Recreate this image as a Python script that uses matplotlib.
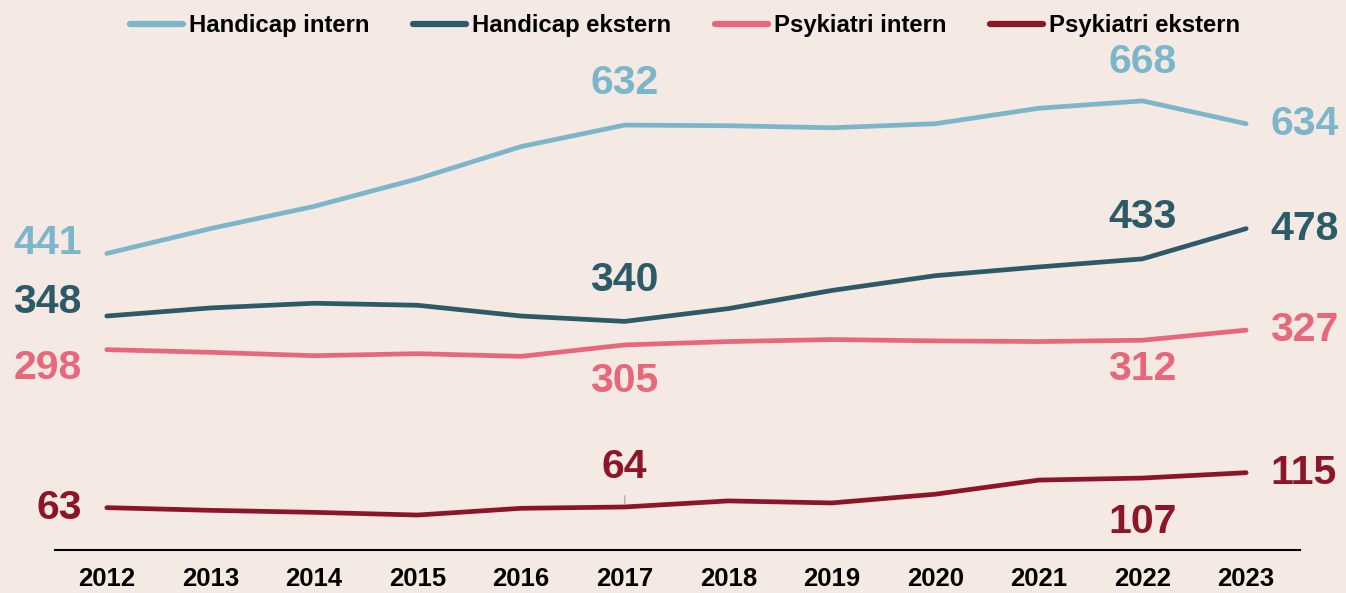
import matplotlib
matplotlib.use("Agg")
import matplotlib.pyplot as plt

# values
YEARS = [2012, 2013, 2014, 2015, 2016, 2017, 2018, 2019, 2020, 2021, 2022, 2023]
HANDICAP_INTERN  = [441, 478, 511, 552, 600, 632, 631, 628, 634, 657, 668, 634]
HANDICAP_EKSTERN = [348, 360, 367, 364, 348, 340, 359, 386, 408, 421, 433, 478]
PSYK_INTERN      = [298, 294, 289, 292, 288, 305, 310, 313, 311, 310, 312, 327]
PSYK_EKSTERN     = [63, 59, 56, 52, 62, 64, 73, 70, 83, 104, 107, 115]

NAMES = ["Handicap intern", "Handicap ekstern", "Psykiatri intern", "Psykiatri ekstern"]

BG     = "#f4e9e3"
COLORS = ["#7bb6cb", "#2d5a69", "#e8687b", "#8c1628"]

plt.rcParams["font.family"] = ["Liberation Sans", "DejaVu Sans"]
plt.rcParams["font.weight"] = "bold"

fig = plt.figure(figsize=(13.46, 5.93), dpi=100)
fig.patch.set_facecolor(BG)
ax = fig.add_axes([55 / 1346, 43 / 593, 1245 / 1346, 550 / 593])
ax.set_facecolor(BG)

series = [HANDICAP_INTERN, HANDICAP_EKSTERN, PSYK_INTERN, PSYK_EKSTERN]
for vals, col, name in zip(series, COLORS, NAMES):
    ax.plot(YEARS, vals, color=col, lw=3.4, label=name,
            solid_capstyle="round", solid_joinstyle="round", zorder=3)

# value labels: (series index, year index, dx px, dy px, ha)
LABELS = [
    (0, 0, -25, 10, "right"), (0, 5, 0, 42, "center"), (0, 10, 0, 39, "center"), (0, 11, 24, 0, "left"),
    (1, 0, -25, 14, "right"), (1, 5, 0, 41, "center"), (1, 10, 0, 42, "center"), (1, 11, 24, 0, "left"),
    (2, 0, -25, -18, "right"), (2, 5, 0, -36, "center"), (2, 10, 0, -29, "center"), (2, 11, 24, 0, "left"),
    (3, 0, -25, 0, "right"), (3, 5, 0, 40, "center"), (3, 10, 0, -44, "center"), (3, 11, 24, 0, "left"),
]
for si, yi, dx, dy, ha in LABELS:
    v = series[si][yi]
    ax.annotate(str(v), (YEARS[yi], v), xytext=(dx * 0.72, dy * 0.72),
                textcoords="offset points", ha=ha, va="center",
                fontsize=29.5, fontweight="bold", color=COLORS[si], zorder=4)

# small grey leader under "64"
ax.annotate("", (YEARS[5], PSYK_EKSTERN[5]), xytext=(0, 10),
            textcoords="offset points",
            arrowprops=dict(arrowstyle="-", color="#b0b0b0", lw=1))

ax.set_xlim(2011.5, 2023.52)
ax.set_ylim(0, 818)
ax.set_xticks(YEARS)
ax.set_xticklabels([str(y) for y in YEARS], fontsize=18.5, fontweight="bold")
ax.tick_params(axis="x", length=0, pad=12.5)
ax.set_yticks([])
for s in ["top", "left", "right"]:
    ax.spines[s].set_visible(False)
ax.spines["bottom"].set_linewidth(1.5)
ax.spines["bottom"].set_color("black")

leg = ax.legend(loc="upper center", bbox_to_anchor=(0.506, 1.0), ncol=4, frameon=False,
                prop={"size": 17.2, "weight": "bold"}, handlelength=2.2,
                handletextpad=0.25, columnspacing=1.85, borderaxespad=0.2)
for line in leg.get_lines():
    line.set_linewidth(4.5)
    line.set_solid_capstyle("round")

fig.savefig("out.png", dpi=100, facecolor=BG)
